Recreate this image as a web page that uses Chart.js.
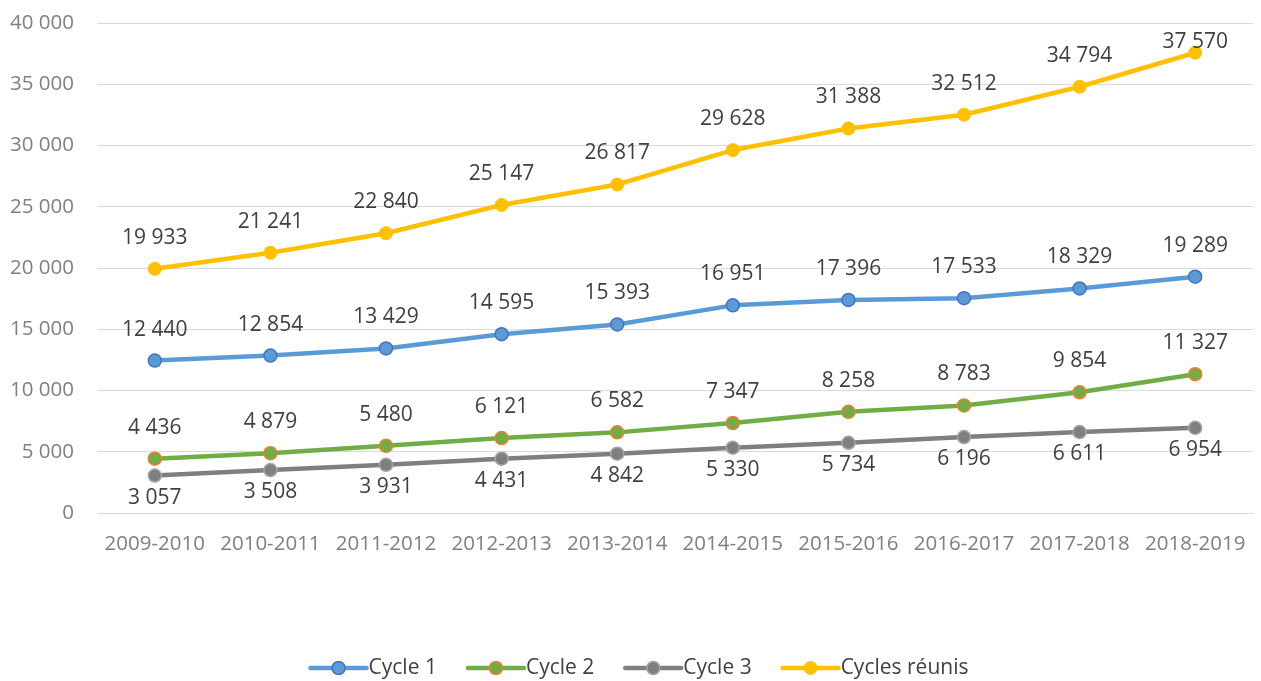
<!DOCTYPE html>
<html>
<head>
<meta charset="utf-8">
<script src="https://cdn.jsdelivr.net/npm/chart.js@4"></script>
<style>
html,body{margin:0;padding:0;background:#fff;}
#wrap{width:1261px;height:681px;position:relative;}
</style>
</head>
<body>
<div id="wrap"><canvas id="c" width="1261" height="681"></canvas></div>
<script>
const categories = ['2009-2010','2010-2011','2011-2012','2012-2013','2013-2014','2014-2015','2015-2016','2016-2017','2017-2018','2018-2019'];
const cycle1 = [12440, 12854, 13429, 14595, 15393, 16951, 17396, 17533, 18329, 19289];
const cycle2 = [4436, 4879, 5480, 6121, 6582, 7347, 8258, 8783, 9854, 11327];
const cycle3 = [3057, 3508, 3931, 4431, 4842, 5330, 5734, 6196, 6611, 6954];
const cyclesReunis = [19933, 21241, 22840, 25147, 26817, 29628, 31388, 32512, 34794, 37570];
const seriesNames = ['Cycle 1', 'Cycle 2', 'Cycle 3', 'Cycles réunis'];
const yTicks = [0, 5000, 10000, 15000, 20000, 25000, 30000, 35000, 40000];

const FONT = "'Open Sans', 'Liberation Sans', sans-serif";
function fmt(v){ return String(Math.round(v)).replace(/\B(?=(\d{3})+(?!\d))/g, ' '); }

const labelPlugin = {
  id: 'valueLabels',
  afterDatasetsDraw(chart){
    const ctx = chart.ctx;
    ctx.save();
    ctx.font = "21px " + FONT;
    ctx.fillStyle = '#404040';
    ctx.textAlign = 'center';
    ctx.textBaseline = 'middle';
    chart.data.datasets.forEach((ds, i) => {
      const meta = chart.getDatasetMeta(i);
      meta.data.forEach((pt, j) => {
        let y = ds.labelPos === 'below' ? pt.y + 22 : pt.y - 31;
        y = Math.max(y, chart.chartArea.top + 19);
        ctx.fillText(fmt(ds.data[j]), pt.x, y);
      });
    });
    ctx.restore();
  }
};

const legendPlugin = {
  id: 'customLegend',
  afterDraw(chart){
    const ctx = chart.ctx;
    ctx.save();
    ctx.font = "21px " + FONT;
    ctx.textBaseline = 'middle';
    const lineW = 60, gapAfterText = 29;
    const items = chart.data.datasets.map(ds => ({ds, tw: ctx.measureText(ds.label).width}));
    let total = 0;
    items.forEach((it, k) => { total += lineW + it.tw + (k < items.length - 1 ? gapAfterText : 0); });
    let x = chart.width / 2 - total / 2 + 8;
    const y = 668;
    items.forEach(it => {
      const ds = it.ds;
      ctx.strokeStyle = ds.borderColor;
      ctx.lineWidth = 4.5;
      ctx.lineCap = 'round';
      ctx.beginPath(); ctx.moveTo(x + 2, y); ctx.lineTo(x + lineW - 2, y); ctx.stroke();
      ctx.beginPath();
      ctx.arc(x + lineW / 2, y, 6.5, 0, Math.PI * 2);
      ctx.fillStyle = ds.pointBackgroundColor;
      ctx.fill();
      ctx.lineWidth = ds.pointBorderWidth;
      ctx.strokeStyle = ds.pointBorderColor;
      ctx.stroke();
      ctx.fillStyle = '#404040';
      ctx.textAlign = 'left';
      ctx.fillText(ds.label, x + lineW, y);
      x += lineW + it.tw + gapAfterText;
    });
    ctx.restore();
  }
};

function mk(label, data, line, fill, border, bw, pos){
  return {
    label, data, labelPos: pos,
    borderColor: line, backgroundColor: line,
    borderWidth: 4.5, tension: 0,
    pointRadius: 6.5, pointHoverRadius: 6.5,
    pointBackgroundColor: fill, pointBorderColor: border, pointBorderWidth: bw,
    borderCapStyle: 'round', borderJoinStyle: 'round'
  };
}

new Chart(document.getElementById('c'), {
  type: 'line',
  data: {
    labels: categories,
    datasets: [
      mk(seriesNames[0], cycle1, '#5b9bd5', '#5b9bd5', '#4472c4', 1.5, 'above'),
      mk(seriesNames[1], cycle2, '#70ad47', '#70ad47', '#ed7d31', 1.5, 'above'),
      mk(seriesNames[2], cycle3, '#7f7f7f', '#7f7f7f', '#a5a5a5', 1.5, 'below'),
      mk(seriesNames[3], cyclesReunis, '#ffc000', '#ffc000', '#ffc000', 1, 'above')
    ]
  },
  options: {
    responsive: false,
    animation: false,
    layout: { padding: { top: 23, right: 3, bottom: 0, left: 0 } },
    plugins: { legend: { display: false }, tooltip: { enabled: false } },
    scales: {
      x: {
        offset: true,
        grid: { display: false, drawTicks: false },
        border: { display: true, color: '#d9d9d9', width: 1 },
        ticks: { color: '#808080', font: { family: FONT, size: 20.5 }, padding: 19, maxRotation: 0, autoSkip: false },
        afterFit(s){ s.height = 168; s.paddingLeft = 0; s.paddingRight = 0; }
      },
      y: {
        min: 0, max: 40000,
        afterBuildTicks(s){ s.ticks = yTicks.map(v => ({value: v})); },
        grid: { color: '#d9d9d9', lineWidth: 1, drawTicks: false },
        border: { display: false },
        ticks: { color: '#808080', font: { family: FONT, size: 20.5 }, padding: 23, callback: v => fmt(v) },
        afterFit(s){ s.width = 97; s.paddingTop = 0; s.paddingBottom = 0; s.paddingLeft = 0; s.paddingRight = 0; }
      }
    }
  },
  plugins: [labelPlugin, legendPlugin]
});
</script>
</body>
</html>
